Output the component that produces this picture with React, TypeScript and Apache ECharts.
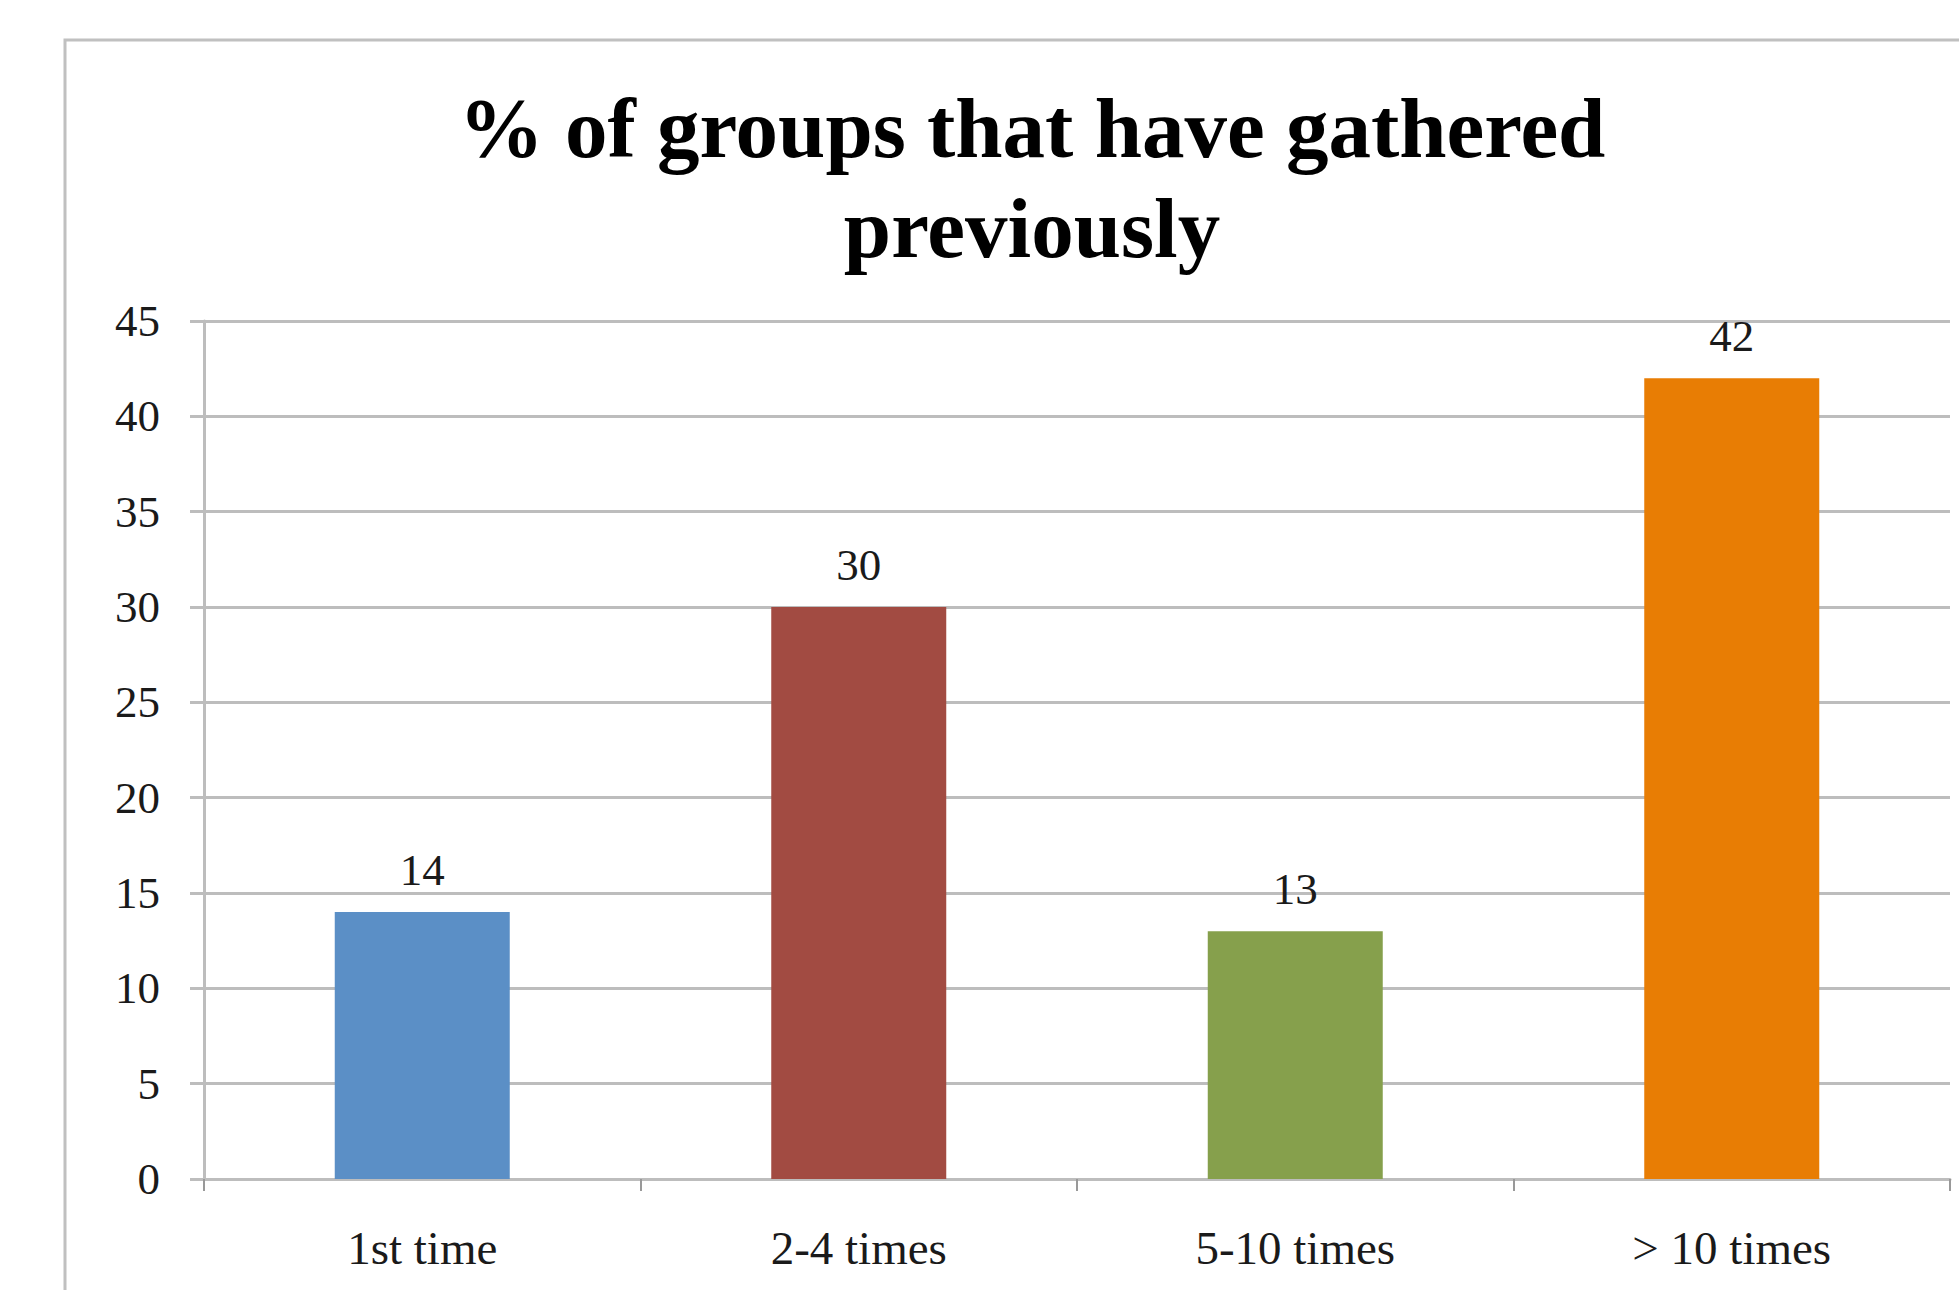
import React, { useEffect, useRef } from "react";
import * as echarts from "echarts";

const categories = ["1st time", "2-4 times", "5-10 times", "> 10 times"];
const values = [14, 30, 13, 42];
const barColors = ["#5B8FC6", "#A24B42", "#86A04C", "#E87D04"];
const titleLines = ["% of groups that have gathered", "previously"];
const yMin = 0;
const yMax = 45;
const yInterval = 5;

const FONT = "'Liberation Serif', serif";

export default function App() {
  const ref = useRef<HTMLDivElement>(null);
  useEffect(() => {
    if (!ref.current) return;
    const chart = echarts.init(ref.current, undefined, { renderer: "svg" });
    chart.setOption({
      animation: false,
      backgroundColor: "#ffffff",
      graphic: [
        {
          type: "rect",
          shape: { x: 65, y: 40, width: 2000, height: 1400 },
          style: { fill: "none", stroke: "#C0C0C0", lineWidth: 3 },
          silent: true,
          z: -1,
        },
        {
          type: "text",
          x: 1032,
          y: 178,
          style: {
            text: titleLines.join("\n"),
            font: `bold 85px ${FONT}`,
            lineHeight: 100,
            fill: "#000000",
            textAlign: "center",
            textVerticalAlign: "middle",
          },
        },
      ],
      grid: { left: 204, right: 9, top: 321, bottom: 111, containLabel: false },
      xAxis: {
        type: "category",
        data: categories,
        boundaryGap: true,
        axisLine: { show: true, lineStyle: { color: "#BDBDBD", width: 3 } },
        axisTick: { show: true, alignWithLabel: false, length: 12, lineStyle: { color: "#999999", width: 2 } },
        axisLabel: { color: "#1a1a1a", fontFamily: FONT, fontSize: 47, margin: 45 },
        splitLine: { show: false },
      },
      yAxis: {
        type: "value",
        min: yMin,
        max: yMax,
        interval: yInterval,
        axisLine: { show: true, lineStyle: { color: "#BDBDBD", width: 3 } },
        axisTick: { show: true, length: 14, lineStyle: { color: "#BDBDBD", width: 3 } },
        axisLabel: { color: "#1a1a1a", fontFamily: FONT, fontSize: 45, margin: 44 },
        splitLine: { show: true, lineStyle: { color: "#BDBDBD", width: 3 } },
      },
      series: [
        {
          type: "bar",
          barWidth: 175,
          data: values.map((v, i) => ({ value: v, itemStyle: { color: barColors[i] } })),
          label: {
            show: true,
            position: "top",
            distance: 20,
            color: "#1a1a1a",
            fontFamily: FONT,
            fontSize: 45,
          },
        },
      ],
    });
    return () => chart.dispose();
  }, []);
  return (
    <div
      ref={ref}
      style={{ position: "fixed", left: 0, top: 0, width: 1959, height: 1290, background: "#fff" }}
    />
  );
}
